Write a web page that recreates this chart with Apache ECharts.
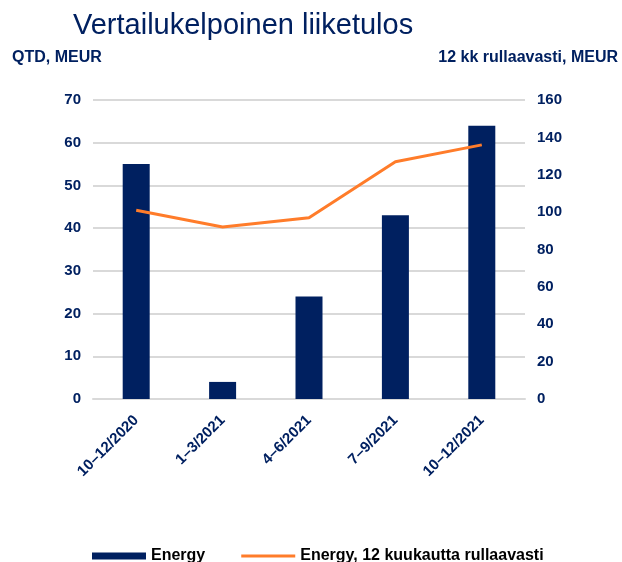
<!DOCTYPE html>
<html>
<head>
<meta charset="utf-8">
<script src="https://cdn.jsdelivr.net/npm/echarts@6/dist/echarts.min.js"></script>
<style>
html,body{margin:0;padding:0;background:#fff;}
#main{width:622px;height:562px;}
</style>
</head>
<body>
<div id="main"></div>
<script>
var categories = ['10–12/2020', '1–3/2021', '4–6/2021', '7–9/2021', '10–12/2021'];
var energyQtd = [55, 4, 24, 43, 64];
var energyRolling = [101, 92, 97, 127, 136];
var leftTicks = {min: 0, max: 70, interval: 10};
var rightTicks = {min: 0, max: 160, interval: 20};

var navy = '#002060';
var orange = '#FF7C2A';
var font = '"Liberation Sans", Arial, sans-serif';

var chart = echarts.init(document.getElementById('main'));
chart.setOption({
    animation: false,
    textStyle: {fontFamily: font},
    title: {
        text: 'Vertailukelpoinen liiketulos',
        left: 68,
        top: 6,
        textStyle: {fontFamily: font, fontSize: 29, fontWeight: 'normal', color: navy}
    },
    graphic: [
        {type: 'text', left: 12, top: 50, style: {text: 'QTD, MEUR', font: 'bold 16px ' + font, fill: navy}},
        {type: 'text', right: 4, top: 50, style: {text: '12 kk rullaavasti, MEUR', font: 'bold 16px ' + font, fill: navy}}
    ],
    legend: {
        top: 543,
        left: 87,
        itemGap: 36,
        itemWidth: 54,
        itemHeight: 7,
        textStyle: {fontFamily: font, fontSize: 16, fontWeight: 'bold', color: '#000'},
        data: [
            {name: 'Energy', icon: 'rect'},
            {name: 'Energy, 12 kuukautta rullaavasti', icon: 'path://M0,0H54V3H0Z'}
        ]
    },
    grid: {left: 93, right: 97, top: 100, bottom: 163},
    xAxis: {
        type: 'category',
        data: categories,
        axisLine: {lineStyle: {color: '#d9d9d9', width: 2}},
        axisTick: {show: false},
        axisLabel: {rotate: 45, margin: 19, color: navy, fontWeight: 'bold', fontSize: 15, fontFamily: font}
    },
    yAxis: [
        {
            type: 'value',
            min: leftTicks.min, max: leftTicks.max, interval: leftTicks.interval,
            splitLine: {lineStyle: {color: '#d9d9d9', width: 2}},
            axisLabel: {margin: 12, color: navy, fontWeight: 'bold', fontSize: 15, fontFamily: font}
        },
        {
            type: 'value',
            min: rightTicks.min, max: rightTicks.max, interval: rightTicks.interval,
            splitLine: {show: false},
            axisLabel: {margin: 12, color: navy, fontWeight: 'bold', fontSize: 15, fontFamily: font}
        }
    ],
    series: [
        {
            name: 'Energy',
            type: 'bar',
            data: energyQtd,
            barWidth: 27,
            itemStyle: {color: navy}
        },
        {
            name: 'Energy, 12 kuukautta rullaavasti',
            type: 'line',
            yAxisIndex: 1,
            data: energyRolling,
            symbol: 'none',
            lineStyle: {color: orange, width: 3},
            itemStyle: {color: orange}
        }
    ]
});
</script>
</body>
</html>
